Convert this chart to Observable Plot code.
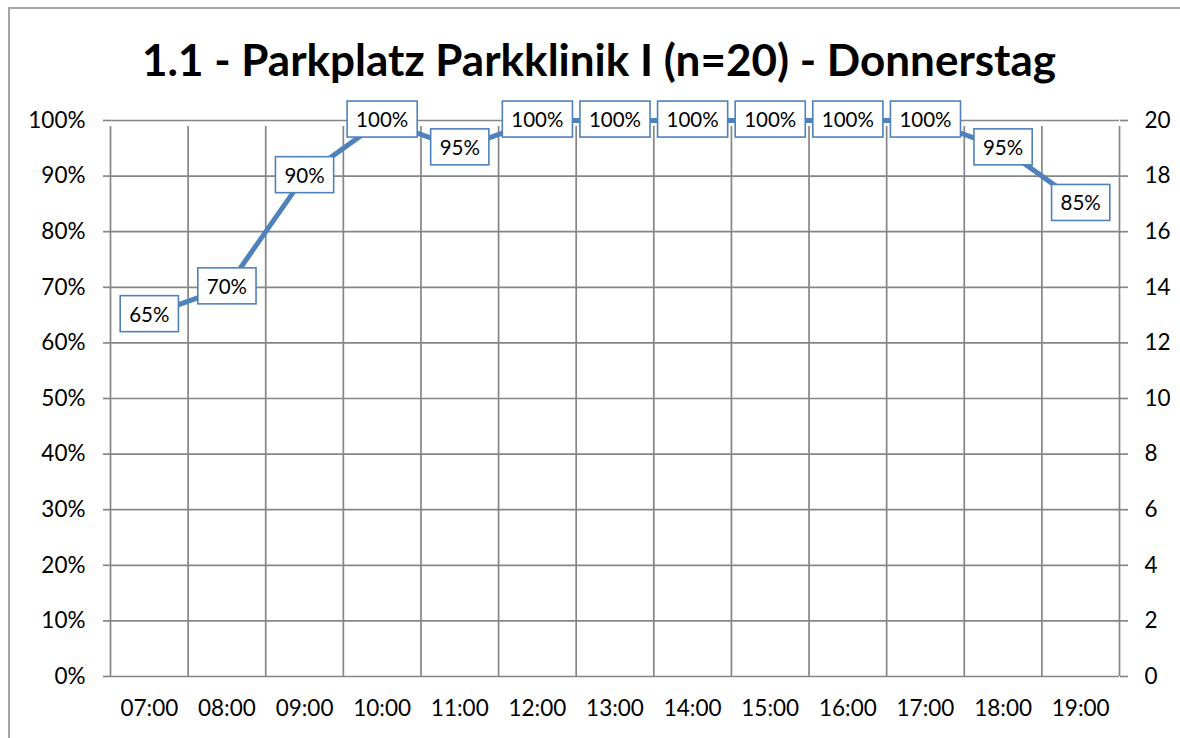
<!DOCTYPE html>
<html>
<head>
<meta charset="utf-8">
<script src="https://cdn.jsdelivr.net/npm/d3@7"></script>
<script src="https://cdn.jsdelivr.net/npm/@observablehq/plot@0.6"></script>
<style>
  html, body { margin: 0; padding: 0; background: #fff; }
  #wrap { position: relative; width: 1180px; height: 738px; overflow: hidden; font-family: Lato, "Open Sans", sans-serif; }
  #frame { position: absolute; left: 8px; top: 7px; width: 1300px; height: 900px; border: 2px solid #a6a6a6; box-sizing: border-box; }
  #title { position: absolute; left: 9px; width: 1180px; top: 0; height: 100px; line-height: 118px; text-align: center; font-weight: 700; font-size: 44px; color: #000; white-space: nowrap; }
  #chart { position: absolute; left: 0; top: 100px; }
</style>
</head>
<body>
<div id="wrap">
  <div id="frame"></div>
  <div id="title">1.1 - Parkplatz Parkklinik I (n=20) - Donnerstag</div>
  <div id="chart"></div>
</div>
<script>
const hours = ["07:00","08:00","09:00","10:00","11:00","12:00","13:00","14:00","15:00","16:00","17:00","18:00","19:00"];
const occupancy = [65, 70, 90, 100, 95, 100, 100, 100, 100, 100, 100, 95, 85];
const capacity = 20;
const percentTicks = [0, 10, 20, 30, 40, 50, 60, 70, 80, 90, 100];

const data = hours.map((h, i) => ({hour: h, xi: i + 0.5, pct: occupancy[i]}));
const bandEdges = d3.range(hours.length + 1);
const bandCenters = hours.map((_, i) => i + 0.5);

const grid = "#868686";
const blue = "#4F81BD";

const plot = Plot.plot({
  width: 1180,
  height: 638,
  marginLeft: 110,
  marginRight: 61,
  marginTop: 20,
  marginBottom: 62,
  style: {fontFamily: "Lato, 'Open Sans', sans-serif", fontSize: "22.5px", color: "#000", background: "transparent"},
  x: {type: "linear", domain: [0, hours.length]},
  y: {domain: [0, 100]},
  marks: [
    Plot.ruleY(percentTicks, {y: d => d, stroke: grid, strokeWidth: 1.7, strokeOpacity: 1}),
    Plot.ruleX(bandEdges, {x: d => d, y1: 0, y2: 100, insetBottom: -6, stroke: grid, strokeWidth: 1.7, strokeOpacity: 1}),
    Plot.axisY({anchor: "left", ticks: percentTicks, tickFormat: d => d + "%", tickSize: 7, tickPadding: 18, label: null, stroke: grid, strokeWidth: 1.7, strokeOpacity: 1, fill: "#000"}),
    Plot.axisY({anchor: "right", ticks: percentTicks, tickFormat: d => String(d * capacity / 100), tickSize: 8, tickPadding: 17, label: null, stroke: grid, strokeWidth: 1.7, strokeOpacity: 1, fill: "#000"}),
    Plot.axisX({ticks: bandCenters, tickFormat: d => hours[Math.round(d - 0.5)], tickSize: 0, tickPadding: 24, label: null, fill: "#000"}),
    Plot.line(data, {x: "xi", y: "pct", stroke: blue, strokeWidth: 5}),
    Plot.text(data, {x: "xi", y: "pct", text: d => d.pct + "%", fontSize: 20.5, fill: "#000", className: "dlabels"})
  ]
});

document.getElementById("chart").appendChild(plot);

// boxes behind data labels
const labelGroup = plot.querySelector("g.dlabels");
if (labelGroup) {
  const boxes = document.createElementNS("http://www.w3.org/2000/svg", "g");
  labelGroup.parentNode.insertBefore(boxes, labelGroup);
  labelGroup.querySelectorAll("text").forEach(t => {
    const b = t.getBBox();
    const ctm = t.getAttribute("transform");
    const r = document.createElementNS("http://www.w3.org/2000/svg", "rect");
    const padX = 9, h = 36;
    const cy = b.y + b.height / 2;
    r.setAttribute("x", b.x - padX);
    r.setAttribute("y", cy - h / 2);
    r.setAttribute("width", b.width + 2 * padX);
    r.setAttribute("height", h);
    r.setAttribute("fill", "#fff");
    r.setAttribute("stroke", blue);
    r.setAttribute("stroke-width", 1.6);
    if (ctm) r.setAttribute("transform", ctm);
    boxes.appendChild(r);
  });
  const gt = labelGroup.getAttribute("transform");
  if (gt) boxes.setAttribute("transform", gt);
}
</script>
</body>
</html>
